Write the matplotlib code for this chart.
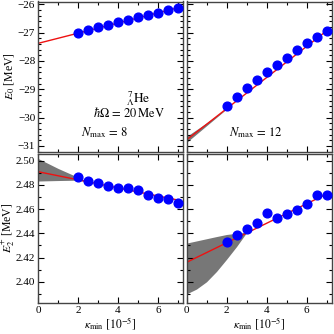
import numpy as np
import matplotlib
matplotlib.use("Agg")
import matplotlib.pyplot as plt
from matplotlib.ticker import MultipleLocator

plt.rcParams['font.family'] = ['Liberation Serif', 'DejaVu Serif']
plt.rcParams['mathtext.fontset'] = 'stix'

# ---- data ----
kappa = [2.0, 2.5, 3.0, 3.5, 4.0, 4.5, 5.0, 5.5, 6.0, 6.5, 7.0]

e0_n8 = [-27.02, -26.92, -26.81, -26.72, -26.64, -26.54, -26.45, -26.37, -26.30, -26.21, -26.12]
e0_n12 = [-29.58, -29.26, -28.96, -28.68, -28.40, -28.13, -27.88, -27.62, -27.38, -27.15, -26.95]
e2_n8 = [2.4861, 2.4833, 2.4811, 2.4786, 2.4772, 2.4772, 2.4756, 2.4714, 2.4689, 2.4681, 2.4647]
e2_n12 = [2.4328, 2.4386, 2.4436, 2.4481, 2.4569, 2.4525, 2.4556, 2.4594, 2.4642, 2.4714, 2.4714]

# linear extrapolation fits (intercept, slope)
fit_e0_n8 = (-27.38, 0.180)
fit_e0_n12 = (-30.79, 0.550)
fit_e2_n8 = (2.4908, -0.00334)
fit_e2_n12 = (2.4160, 0.00805)

# uncertainty bands
band_e0_n12_x = [0.0, 1.0, 2.0]
band_e0_n12_lo = [-30.88, -30.29, -29.70]
band_e0_n12_hi = [-30.67, -30.19, -29.68]

band_e2_n8_x = [0.0, 1.0, 2.0, 2.6]
band_e2_n8_lo = [2.4831, 2.4835, 2.4838, 2.4821]
band_e2_n8_hi = [2.5017, 2.4935, 2.4862, 2.4821]

band_e2_n12_x = [0.0, 0.5, 1.0, 1.5, 2.0, 2.5, 3.0]
band_e2_n12_lo = [2.3900, 2.3940, 2.4000, 2.4085, 2.4185, 2.4290, 2.4405]
band_e2_n12_hi = [2.4319, 2.4337, 2.4355, 2.4373, 2.4390, 2.4400, 2.4410]

xticks = [0, 2, 4, 6]

W, H = 334, 334
fig = plt.figure(figsize=(W / 100, H / 100), dpi=100)

def px_axes(x0, x1, ytop, ybot):
    return fig.add_axes([x0 / W, 1 - ybot / H, (x1 - x0) / W, (ybot - ytop) / H])

ax_tl = px_axes(38, 183, 1.5, 151.5)
ax_tr = px_axes(186.5, 331.5, 1.5, 151.5)
ax_bl = px_axes(38, 183, 153.5, 303)
ax_br = px_axes(186.5, 331.5, 153.5, 303)

panels = [
    (ax_tl, e0_n8, fit_e0_n8, None),
    (ax_tr, e0_n12, fit_e0_n12, (band_e0_n12_x, band_e0_n12_lo, band_e0_n12_hi)),
    (ax_bl, e2_n8, fit_e2_n8, (band_e2_n8_x, band_e2_n8_lo, band_e2_n8_hi)),
    (ax_br, e2_n12, fit_e2_n12, (band_e2_n12_x, band_e2_n12_lo, band_e2_n12_hi)),
]

xl = np.linspace(0, 7, 50)
for ax, ys, fit, band in panels:
    if band is not None:
        ax.fill_between(band[0], band[1], band[2], color='#777777', lw=0, zorder=1)
    ax.plot(xl, fit[0] + fit[1] * xl, color='#ee1111', lw=1.0, zorder=2)
    ax.plot(kappa, ys, 'o', color='#0000ff', ms=6.3, mec='#0000ff', zorder=3)
    ax.set_xlim(0, 7.25)
    ax.set_xticks(xticks)
    ax.xaxis.set_minor_locator(MultipleLocator(1))
    ax.tick_params(which='both', direction='in', top=True, right=True, labelsize=8,
                   width=0.8, colors='black', pad=2)
    ax.tick_params(which='major', length=4)
    ax.tick_params(which='minor', length=2)
    for s in ax.spines.values():
        s.set_linewidth(1.0)
        s.set_color('#444444')

for ax in (ax_tl, ax_tr):
    ax.set_ylim(-31.2, -25.9)
    ax.yaxis.set_major_locator(MultipleLocator(1))
    ax.yaxis.set_minor_locator(MultipleLocator(0.2))
    ax.tick_params(labelbottom=False)
for ax in (ax_bl, ax_br):
    ax.set_ylim(2.3825, 2.5058)
    ax.yaxis.set_major_locator(MultipleLocator(0.02))
    ax.yaxis.set_minor_locator(MultipleLocator(0.01))
    ax.set_yticks([2.40, 2.42, 2.44, 2.46, 2.48, 2.50])
    ax.set_xlabel(r'$\kappa_{\mathrm{min}}$ $[10^{-5}]$', fontsize=8.5, labelpad=1)
ax_tr.tick_params(labelleft=False)
ax_br.tick_params(labelleft=False)

ax_tl.set_ylabel(r'$E_0$ [MeV]', fontsize=8.5)
ax_bl.set_ylabel(r'$E_2^{+}$ [MeV]', fontsize=8.5)
ax_tl.yaxis.set_label_coords(-0.155, 0.5)
ax_bl.yaxis.set_label_coords(-0.148, 0.5)

ax_tl.text(0.69, 0.355, r'${}^{\,7}_{\Lambda}\mathrm{He}$', transform=ax_tl.transAxes,
           ha='center', va='center', fontsize=9.5)
ax_tl.text(0.63, 0.255, r'$\hbar\Omega\,=\,20\,\mathrm{MeV}$', transform=ax_tl.transAxes,
           ha='center', va='center', fontsize=9)
ax_tl.text(0.46, 0.125, r'$N_{\mathrm{max}}\,=\,8$', transform=ax_tl.transAxes,
           ha='center', va='center', fontsize=9)
ax_tr.text(0.48, 0.125, r'$N_{\mathrm{max}}\,=\,12$', transform=ax_tr.transAxes,
           ha='center', va='center', fontsize=9)

fig.savefig('out.png', dpi=100)
